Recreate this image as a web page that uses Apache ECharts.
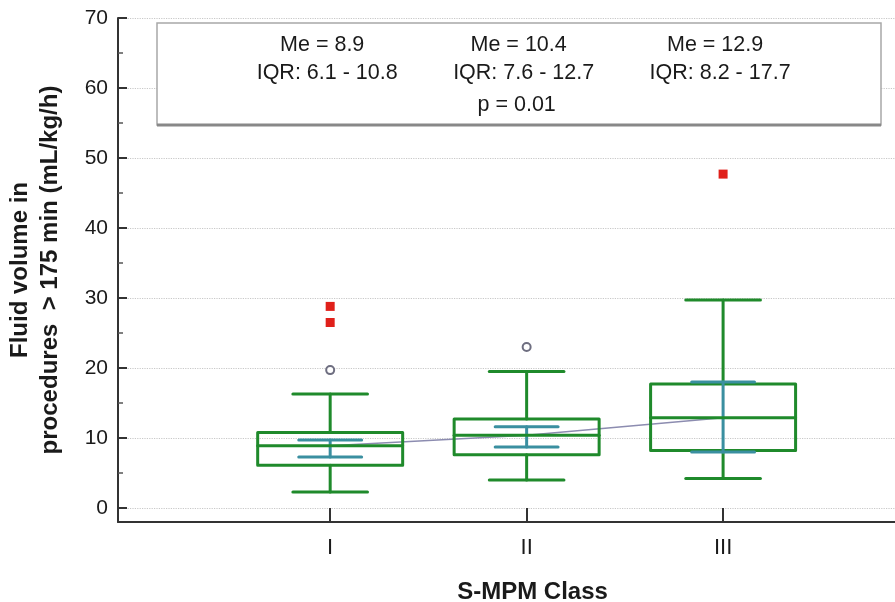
<!DOCTYPE html>
<html><head><meta charset="utf-8">
<script src="https://cdn.jsdelivr.net/npm/echarts@6/dist/echarts.min.js"></script>
<style>html,body{margin:0;padding:0;background:#fff}#c{width:895px;height:602px}</style>
</head><body><div id="c"></div>
<script>
const categories = ['I', 'II', 'III'];
const xPositions = [1, 2, 3];
const whiskerLow = [2.3, 4.0, 4.2];
const q1 = [6.1, 7.6, 8.2];
const median = [8.9, 10.4, 12.9];
const q3 = [10.8, 12.7, 17.7];
const whiskerHigh = [16.3, 19.5, 29.7];
const ciLow = [7.3, 8.7, 8.0];
const ciHigh = [9.7, 11.6, 18.0];
const farOutliers = [[1, 28.8], [1, 26.5], [3, 47.7]];
const nearOutliers = [[1, 19.7], [2, 23.0]];
const yTicks = [0, 10, 20, 30, 40, 50, 60, 70];
const yMinorTicks = [5, 15, 25, 35, 45, 55, 65];
const pText = 'p = 0.01';
const yTitle = 'Fluid volume in\nprocedures  > 175 min (mL/kg/h)';
const xTitle = 'S-MPM Class';

const FONT = "'Liberation Sans', Arial, sans-serif";
const boxData = xPositions.map((x, i) => [x, whiskerLow[i], q1[i], median[i], q3[i], whiskerHigh[i], ciLow[i], ciHigh[i]]);
const medianLine = xPositions.map((x, i) => [x, median[i]]);

function renderBox(params, api) {
  const x = api.value(0);
  const unit = api.size([1, 0])[0];
  const P = v => api.coord([x, v]);
  const cx = P(0)[0];
  const yMin = P(api.value(1))[1], yQ1 = P(api.value(2))[1], yMed = P(api.value(3))[1],
        yQ3 = P(api.value(4))[1], yMax = P(api.value(5))[1], yCl = P(api.value(6))[1], yCh = P(api.value(7))[1];
  const boxHalf = unit * 0.369, capHalf = unit * 0.19, ciHalf = unit * 0.16;
  const green = { stroke: '#1f8a2b', lineWidth: 3, fill: null, lineCap: 'round', lineJoin: 'round' };
  const teal = { stroke: '#3a8fa0', lineWidth: 3, lineCap: 'round' };
  const line = (x1, y1, x2, y2, st) => ({ type: 'line', shape: { x1, y1, x2, y2 }, style: st });
  return { type: 'group', children: [
    line(cx, yQ3, cx, yMax, green), line(cx, yMin, cx, yQ1, green),
    line(cx - capHalf, yMax, cx + capHalf, yMax, green), line(cx - capHalf, yMin, cx + capHalf, yMin, green),
    { type: 'rect', shape: { x: cx - boxHalf, y: yQ3, width: 2 * boxHalf, height: yQ1 - yQ3 }, style: Object.assign({}, green, { fill: 'none' }) },
    line(cx, yCl, cx, yCh, teal), line(cx - ciHalf, yCl, cx + ciHalf, yCl, teal), line(cx - ciHalf, yCh, cx + ciHalf, yCh, teal),
    line(cx - boxHalf, yMed, cx + boxHalf, yMed, green)
  ]};
}

const chart = echarts.init(document.getElementById('c'), null, { renderer: 'canvas' });
const axisLineStyle = { color: '#333', width: 2 };
chart.setOption({
  animation: false,
  backgroundColor: '#fff',
  textStyle: { fontFamily: FONT },
  grid: { left: 118, right: 0, top: 18, bottom: 80, containLabel: false, outerBoundsMode: 'none' },
  xAxis: {
    type: 'value', min: -0.08, max: 3.875,
    axisLine: { show: true, onZero: false, lineStyle: axisLineStyle },
    axisTick: { show: true, inside: true, length: 14, customValues: xPositions, lineStyle: axisLineStyle },
    axisLabel: { customValues: xPositions, formatter: v => categories[xPositions.indexOf(v)], fontSize: 22, color: '#1a1a1a', margin: 15, fontFamily: FONT },
    splitLine: { show: false },
    name: xTitle, nameLocation: 'middle', nameGap: 58,
    nameTextStyle: { fontSize: 24, fontWeight: 'bold', color: '#1a1a1a', fontFamily: FONT, padding: [0, 0, 0, 52] }
  },
  yAxis: [{
    type: 'value', min: -2, max: 70,
    axisLine: { show: true, onZero: false, lineStyle: axisLineStyle },
    axisTick: { show: true, inside: true, length: 9, customValues: yTicks, lineStyle: axisLineStyle },
    axisLabel: { customValues: yTicks, fontSize: 21, color: '#1a1a1a', margin: 10, fontFamily: FONT },
    splitLine: { show: true, lineStyle: { type: 'dotted', color: '#c8c8c8', width: 1.2 } },
    name: yTitle, nameLocation: 'middle', nameGap: 53,
    nameTextStyle: { fontSize: 24, fontWeight: 'bold', color: '#1a1a1a', lineHeight: 30, fontFamily: FONT, align: 'center' }
  }, {
    type: 'value', min: -2, max: 70, position: 'left',
    axisLine: { show: false, onZero: false },
    axisTick: { show: true, inside: true, length: 5, customValues: yMinorTicks, lineStyle: { color: '#555', width: 1.5 } },
    axisLabel: { show: false }, splitLine: { show: false }
  }],
  series: [
    { type: 'line', data: medianLine, symbol: 'none', lineStyle: { color: '#8c8cb0', width: 1.5 }, z: 1, silent: true },
    { type: 'custom', data: boxData, renderItem: renderBox, encode: { x: 0, y: [1, 2, 3, 4, 5, 6, 7] }, z: 2 },
    { type: 'scatter', data: farOutliers, symbol: 'rect', symbolSize: 9, itemStyle: { color: '#e0201a', opacity: 1 }, z: 3 },
    { type: 'scatter', data: nearOutliers, symbol: 'circle', symbolSize: 8, itemStyle: { color: '#fff', borderColor: '#6e6e80', borderWidth: 2, opacity: 1 }, z: 3 }
  ]
});

const px = xPositions.map(x => chart.convertToPixel({ xAxisIndex: 0 }, x));
const txtStyle = (text, x, y) => ({ type: 'text', x: x, y: y, style: { text: text, fontSize: 21.5, fontFamily: FONT, fill: '#1a1a1a', align: 'center', verticalAlign: 'middle' }, z: 10 });
const graphics = [
  { type: 'rect', shape: { x: 157, y: 23, width: 724, height: 102 }, style: { fill: '#fff', stroke: '#a8a8a8', lineWidth: 1.5 }, z: 9 },
  { type: 'line', shape: { x1: 157, y1: 125, x2: 881, y2: 125 }, style: { stroke: '#888', lineWidth: 3 }, z: 9 }
];
xPositions.forEach((x, i) => {
  graphics.push(txtStyle('Me = ' + median[i], px[i] - 8, 45));
  graphics.push(txtStyle('IQR: ' + q1[i] + ' - ' + q3[i], px[i] - 3, 73));
});
graphics.push(txtStyle(pText, px[1] - 10, 105));
chart.setOption({ graphic: graphics });
</script></body></html>
